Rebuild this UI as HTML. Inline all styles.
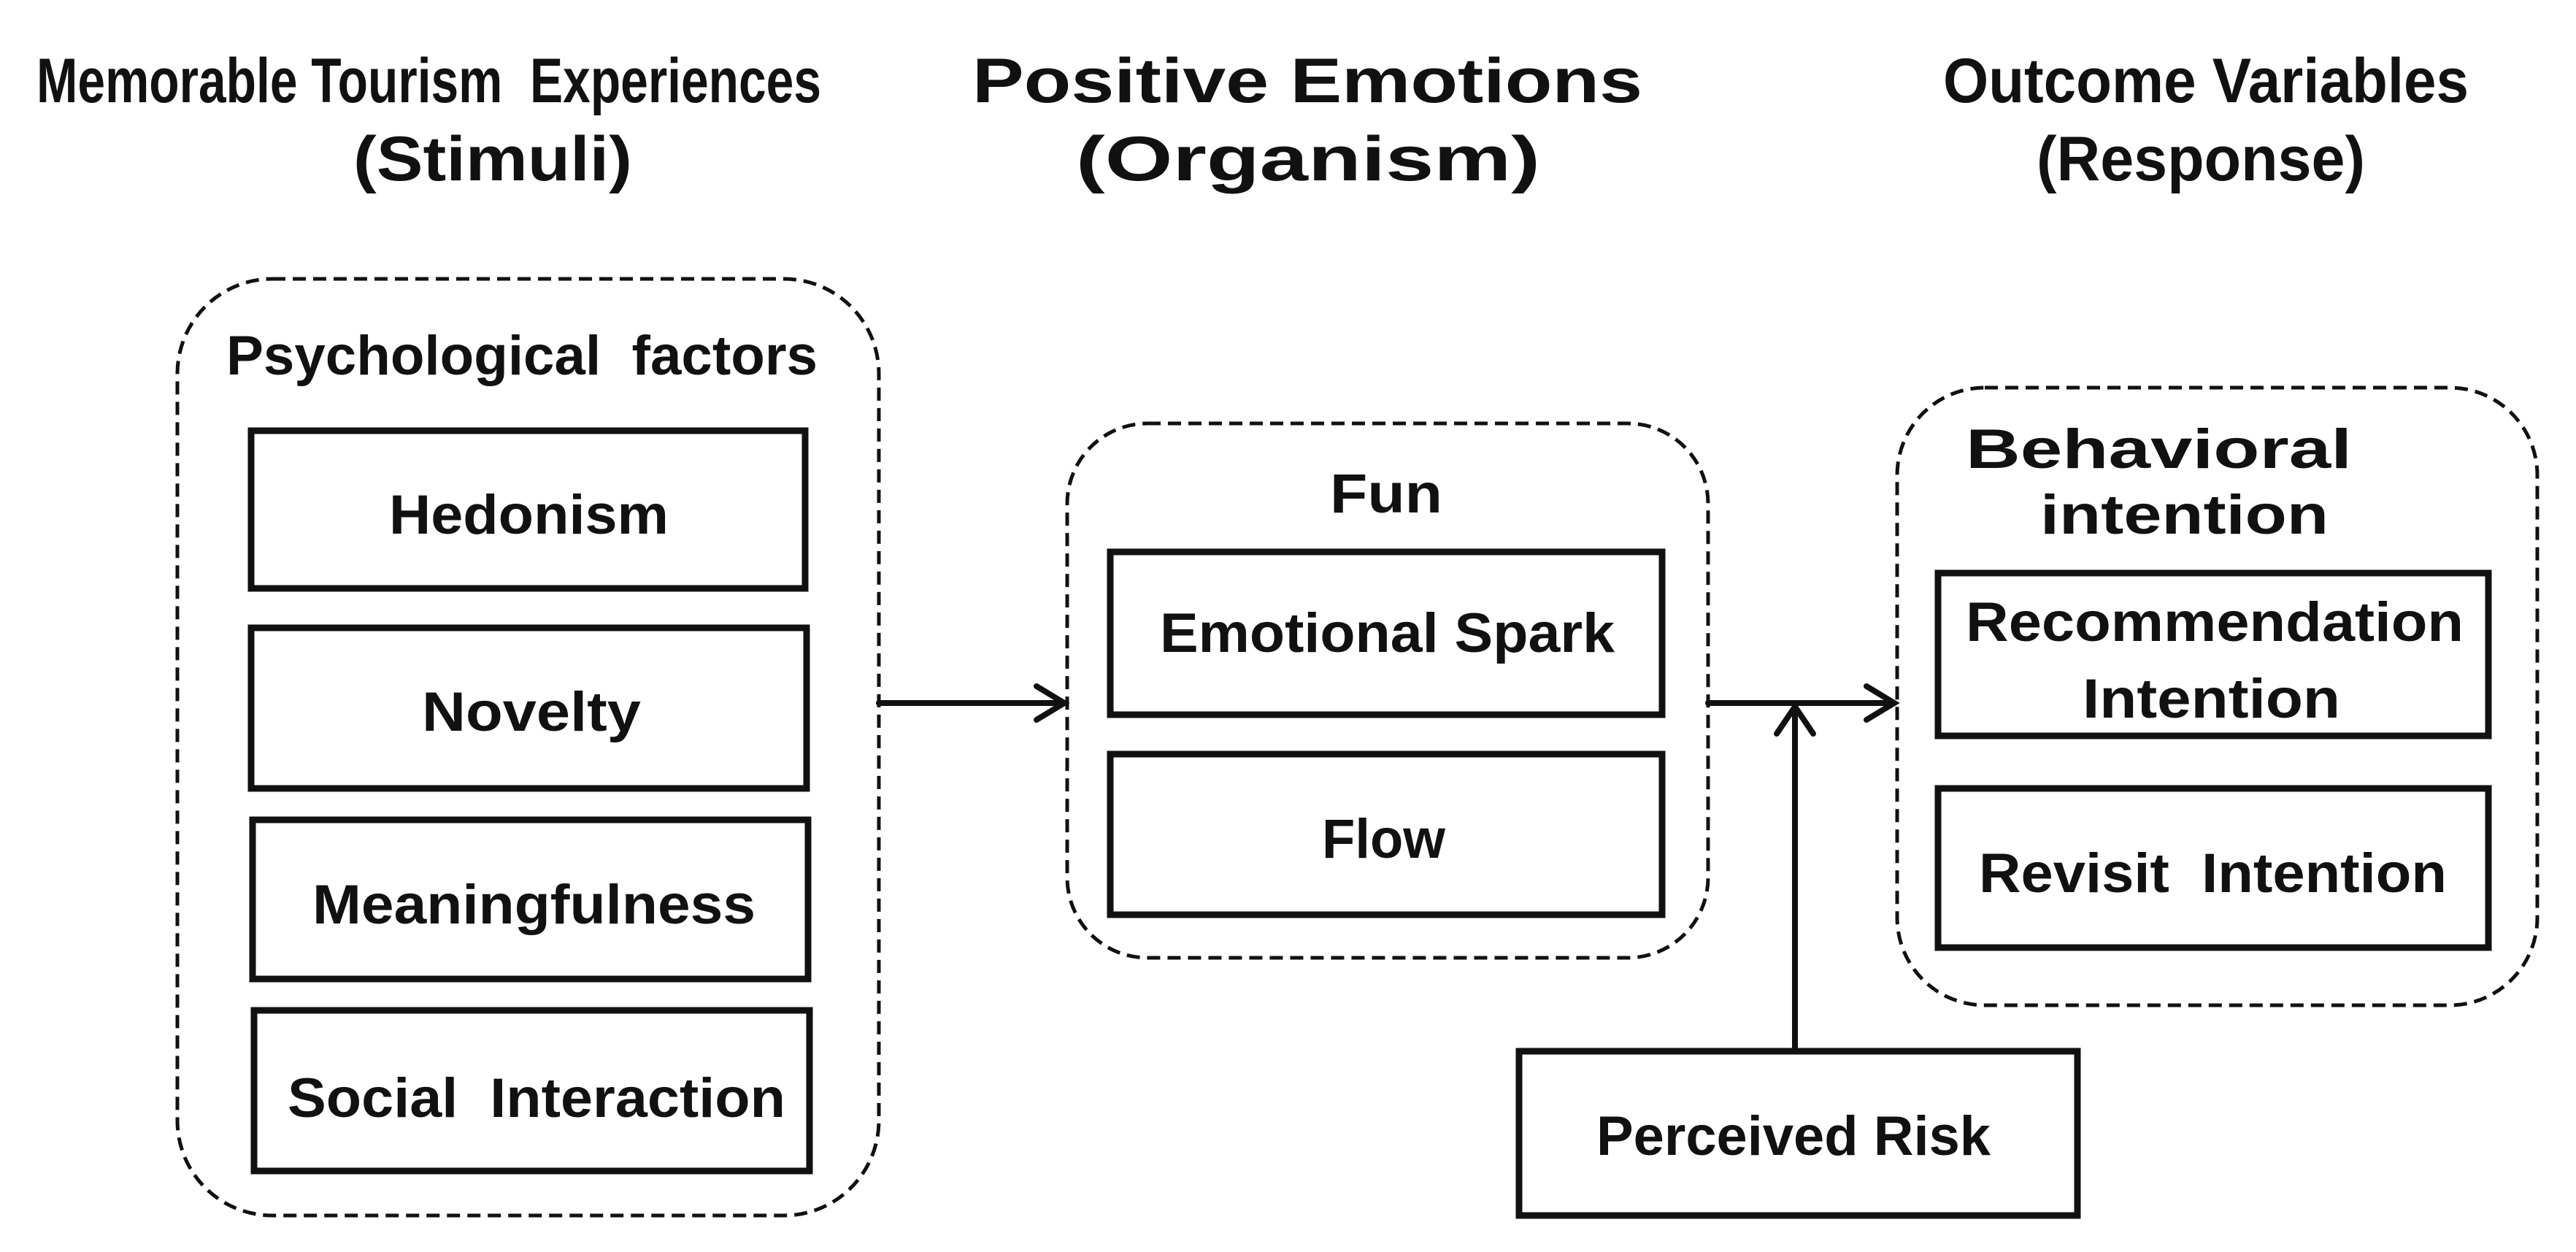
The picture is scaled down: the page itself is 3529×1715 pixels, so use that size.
<!DOCTYPE html>
<html><head><meta charset="utf-8"><style>html,body{margin:0;padding:0;background:#fff}svg{display:block}</style></head>
<body>
<svg width="3529" height="1715" viewBox="0 0 3529 1715" xmlns="http://www.w3.org/2000/svg">
<g font-family="Liberation Sans, Arial, sans-serif" font-weight="bold" font-size="86" fill="#111">
<text x="50" y="140" textLength="1075" lengthAdjust="spacingAndGlyphs">Memorable Tourism&#160; Experiences</text>
<text x="484" y="247" textLength="382" lengthAdjust="spacingAndGlyphs">(Stimuli)</text>
<text x="1332" y="140" textLength="918" lengthAdjust="spacingAndGlyphs">Positive Emotions</text>
<text x="1474" y="247" textLength="636" lengthAdjust="spacingAndGlyphs">(Organism)</text>
<text x="2662" y="140" textLength="720" lengthAdjust="spacingAndGlyphs">Outcome Variables</text>
<text x="2790" y="247" textLength="450" lengthAdjust="spacingAndGlyphs">(Response)</text>
</g>
<g fill="none" stroke="#111" stroke-width="5" stroke-dasharray="18 10">
<rect x="243" y="382" width="961" height="1283" rx="130"/>
<rect x="1462" y="580" width="878" height="732" rx="110"/>
<rect x="2599" y="531" width="877" height="846" rx="120"/>
</g>
<g fill="#fff" stroke="#111" stroke-width="9">
<rect x="344" y="590" width="759" height="216"/>
<rect x="344" y="860" width="761" height="220"/>
<rect x="346" y="1123" width="761" height="218"/>
<rect x="348" y="1384" width="761" height="220"/>
<rect x="1521" y="756" width="756" height="223"/>
<rect x="1521" y="1033" width="756" height="220"/>
<rect x="2655" y="785" width="754" height="223"/>
<rect x="2655" y="1080" width="754" height="218"/>
<rect x="2081" y="1440" width="765" height="225"/>
</g>
<g stroke="#111" stroke-width="8" fill="none" stroke-linecap="round">
<line x1="1204" y1="963" x2="1458" y2="963"/>
<polyline points="1420,940 1458,963 1420,986"/>
<line x1="2340" y1="963" x2="2595" y2="963"/>
<polyline points="2557,940 2595,963 2557,986"/>
<line x1="2459" y1="1440" x2="2459" y2="968"/>
<polyline points="2434,1005 2459,968 2484,1005"/>
</g>
<g font-family="Liberation Sans, Arial, sans-serif" font-weight="bold" font-size="76" fill="#111">
<text x="310" y="513" textLength="810" lengthAdjust="spacingAndGlyphs">Psychological&#160; factors</text>
<text x="533" y="731" textLength="383" lengthAdjust="spacingAndGlyphs">Hedonism</text>
<text x="578" y="1001" textLength="300" lengthAdjust="spacingAndGlyphs">Novelty</text>
<text x="428" y="1265" textLength="607" lengthAdjust="spacingAndGlyphs">Meaningfulness</text>
<text x="394" y="1530" textLength="682" lengthAdjust="spacingAndGlyphs">Social&#160; Interaction</text>
<text x="1822" y="702" textLength="154" lengthAdjust="spacingAndGlyphs">Fun</text>
<text x="1589" y="893" textLength="623" lengthAdjust="spacingAndGlyphs">Emotional Spark</text>
<text x="1811" y="1175" textLength="169" lengthAdjust="spacingAndGlyphs">Flow</text>
<text x="2693" y="641" textLength="529" lengthAdjust="spacingAndGlyphs">Behavioral</text>
<text x="2795" y="731" textLength="395" lengthAdjust="spacingAndGlyphs">intention</text>
<text x="2693" y="878" textLength="682" lengthAdjust="spacingAndGlyphs">Recommendation</text>
<text x="2853" y="983" textLength="353" lengthAdjust="spacingAndGlyphs">Intention</text>
<text x="2711" y="1222" textLength="641" lengthAdjust="spacingAndGlyphs">Revisit&#160; Intention</text>
<text x="2187" y="1582" textLength="540" lengthAdjust="spacingAndGlyphs">Perceived Risk</text>
</g>
</svg>
</body></html>
